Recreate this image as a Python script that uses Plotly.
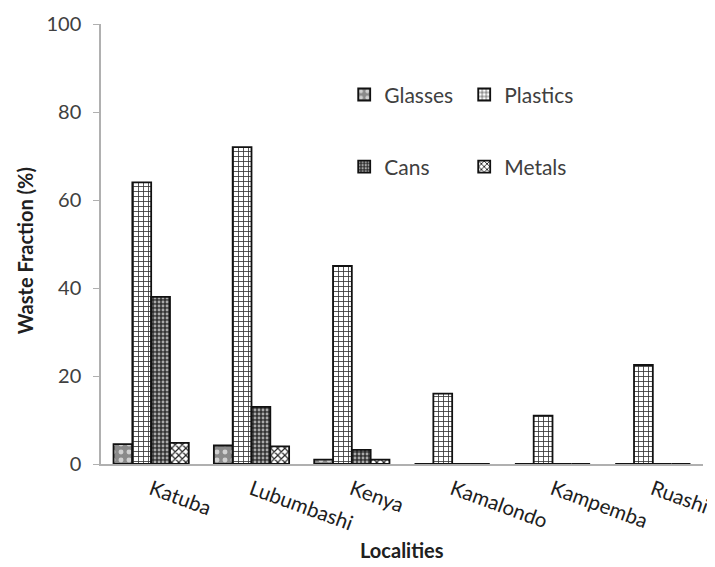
import plotly.graph_objects as go

localities = ["Katuba", "Lubumbashi", "Kenya", "Kamalondo", "Kampemba", "Ruashi"]
glasses = [4.5, 4.2, 1.0, 0, 0, 0]
plastics = [64, 72, 45, 16, 11, 22.5]
cans = [38, 13, 3.2, 0, 0, 0]
metals = [4.8, 4.0, 1.0, 0, 0, 0]

FONT = "Lato"
series = [
    ("Glasses", glasses, dict(bgcolor="#8a8a8a", fgcolor="#d0d0d0", shape=".", size=8, solidity=0.3), "legend"),
    ("Plastics", plastics, dict(bgcolor="white", fgcolor="#333333", shape="+", size=5, solidity=0.3), "legend"),
    ("Cans", cans, dict(bgcolor="#333333", fgcolor="#aaaaaa", shape=".", size=4, solidity=0.4), "legend2"),
    ("Metals", metals, dict(bgcolor="white", fgcolor="#222222", shape="x", size=5, solidity=0.4), "legend2"),
]

fig = go.Figure()
for name, vals, pat, lg in series:
    fig.add_trace(go.Bar(
        x=localities, y=vals, name=name, legend=lg,
        marker=dict(color=pat["bgcolor"], pattern=dict(fillmode="replace", **pat),
                    line=dict(color="#111111", width=1.8)),
    ))

fig.update_layout(
    width=715, height=567,
    margin=dict(l=93, r=20, t=16, b=111),
    paper_bgcolor="white", plot_bgcolor="white",
    barmode="group", bargap=0.25, bargroupgap=0,
    font=dict(family=FONT, size=19, color="#404040"),
    showlegend=True,
    legend=dict(orientation="h", x=0.404, y=0.839, xanchor="left", yanchor="middle",
                font=dict(size=21, color="#404040"), entrywidth=75, bgcolor="rgba(0,0,0,0)"),
    legend2=dict(orientation="h", x=0.404, y=0.675, xanchor="left", yanchor="middle",
                 font=dict(size=21, color="#404040"), entrywidth=75, bgcolor="rgba(0,0,0,0)"),
    annotations=[
        dict(text="<b>Localities</b>", xref="paper", yref="paper", x=0.5, y=-0.195,
             xanchor="center", yanchor="middle", showarrow=False,
             font=dict(size=20, color="#202020")),
        dict(text="<b>Waste Fraction (%)</b>", xref="paper", yref="paper", x=-0.126, y=0.484,
             xanchor="center", yanchor="middle", showarrow=False, textangle=-90,
             font=dict(size=20, color="#202020")),
    ],
)
fig.update_xaxes(
    automargin=False,
    showline=True, linecolor="#b0b0b0", linewidth=1.5, ticks="", tickangle=20,
    ticklabelstandoff=4, tickfont=dict(size=20.5, color="#202020"),
)
fig.update_yaxes(
    automargin=False,
    range=[0, 100], dtick=20, showgrid=False, zeroline=False,
    showline=True, linecolor="#b0b0b0", linewidth=1.5, ticks="outside", ticklen=6,
    tickcolor="#b0b0b0", ticklabelstandoff=8, tickfont=dict(size=20, color="#404040"),
)

fig.write_html("out.html")
